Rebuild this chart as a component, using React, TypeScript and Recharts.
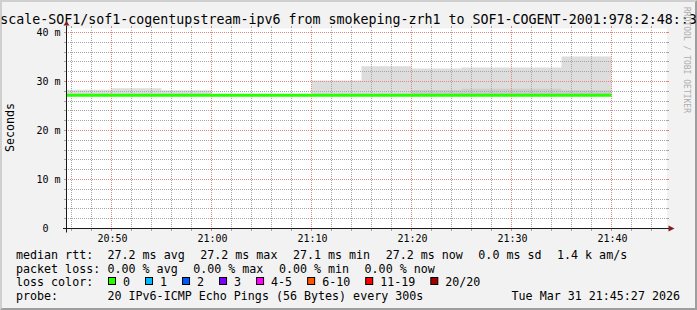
import React from 'react';
import { ComposedChart, Area, Line, XAxis, YAxis, CartesianGrid } from 'recharts';

const FONT = '"DejaVu Sans Mono", monospace';
const W = 697;
const H = 310;
const PLOT_LEFT = 67;
const PLOT_TOP = 28.5;
const PLOT_W = 600;
const PLOT_H = 200;
const PLOT_RIGHT = PLOT_LEFT + PLOT_W;
const PLOT_BOTTOM = PLOT_TOP + PLOT_H;
const Y_AXIS_W = 40;
const X_AXIS_H = 20;

const GRID = '#a6a6a6';
const MGRID = '#de8585';
const ARROW = '#801f1f';
const AXIS = '#1a1a1a';

// time = minutes after 20:00, each smokeping bin is 5 minutes (step 300s)
const binStart = [45, 50, 55, 60, 65, 70, 75, 80, 85, 90, 95, 100];
const smokeMin = [27.1, 27.1, 27.1, 27.1, 27.1, 27.1, 27.1, 27.1, 27.1, 27.1, 27.1, 27.1];
const smokeMax = [28.3, 28.6, 28.2, 27.4, 27.4, 30.2, 33.1, 32.65, 32.86, 32.86, 35.1, 35.1];
const smokeInner = [27.4, 27.4, 27.4, 27.3, 27.3, 27.4, 27.4, 28.25, 28.5, 28.5, 28.2, 28.2];
const medianRtt = [27.2, 27.2, 27.2, 27.2, 27.2, 27.2, 27.2, 27.2, 27.2, 27.2, 27.2, 27.2];

const timeDomain = [45.55, 105.55];
const rttDomain = [0, 40.82];

const xMajor = [50, 60, 70, 80, 90, 100];
const xMajorLabels = ['20:50', '21:00', '21:10', '21:20', '21:30', '21:40'];
const yMajor = [0, 10, 20, 30, 40];
const yMajorLabels = ['0  ', '10 m', '20 m', '30 m', '40 m'];

const xTicks: number[] = [];
for (let t = 46; t <= 104; t += 2) xTicks.push(t);
const yTicks: number[] = [];
for (let v = 0; v <= 40; v += 2) yTicks.push(v);

const title = 'scale-SOF1/sof1-cogentupstream-ipv6 from smokeping-zrh1 to SOF1-COGENT-2001:978:2:48::3';
const rttStats = ['27.2 ms avg', '27.2 ms max', '27.1 ms min', '27.2 ms now', '0.0 ms sd', '1.4 k am/s'];
const lossStats = ['0.00 % avg', '0.00 % max', '0.00 % min', '0.00 % now'];
const lossLabels = ['0', '1', '2', '3', '4-5', '6-10', '11-19', '20/20'];
const lossColors = ['#26ff00', '#00b8ff', '#0059ff', '#7e00ff', '#ff00ff', '#ff5500', '#ff0000', '#a10000'];
const probeText = '20 IPv6-ICMP Echo Pings (56 Bytes) every 300s';
const dateText = 'Tue Mar 31 21:45:27 2026';

const rows = binStart.map((t, i) => ({
  t,
  outer: [smokeMin[i], smokeMax[i]],
  inner: [smokeMin[i], smokeInner[i]],
  median: medianRtt[i],
}));

const px = (c: number) => Math.floor(c);

const XTick = (props: any) => {
  const v = props.payload?.value;
  const raw = props.payload?.coordinate ?? props.x;
  const cx = px(raw);
  const idx = xMajor.indexOf(v);
  const major = idx >= 0;
  const col = major ? MGRID : GRID;
  return (
    <g>
      <rect x={cx} y={Math.ceil(PLOT_TOP)} width={1} height={Math.floor(PLOT_H)} fill={major ? 'url(#dotVM)' : 'url(#dotV)'} />
      <rect x={cx} y={Math.floor(PLOT_TOP) - 2} width={1} height={2} fill={col} />
      <rect x={cx} y={Math.floor(PLOT_BOTTOM) + 1} width={1} height={2} fill={col} />
      {major && (
        <text x={raw + 1} y={241.5} textAnchor="middle" fontFamily={FONT} fontSize={10} fill="#000">
          {xMajorLabels[idx]}
        </text>
      )}
    </g>
  );
};

const YTick = (props: any) => {
  const v = props.payload?.value;
  const raw = props.payload?.coordinate ?? props.y;
  const cy = px(raw);
  const idx = yMajor.indexOf(v);
  const major = idx >= 0;
  const col = major ? MGRID : GRID;
  return (
    <g>
      {v > 0 && (
        <rect x={PLOT_LEFT} y={cy} width={PLOT_W} height={1} fill={major ? 'url(#dotHM)' : 'url(#dotH)'} />
      )}
      <rect x={PLOT_LEFT - 3} y={cy} width={2} height={1} fill={col} />
      <rect x={PLOT_RIGHT} y={cy} width={2} height={1} fill={col} />
      {major && (
        <text x={PLOT_LEFT - 6.5} y={raw + 3.6} textAnchor="end" fontFamily={FONT} fontSize={10} fill="#000" style={{ whiteSpace: 'pre' }}>
          {yMajorLabels[idx]}
        </text>
      )}
    </g>
  );
};

const CHAR = 11.66 * 0.602;
const LEG_FS = 11.66;

function statItems(items: string[], start: number, gap: number) {
  const out: { x: number; s: string }[] = [];
  let x = start;
  for (const s of items) {
    out.push({ x, s });
    x += s.length * CHAR + gap;
  }
  return out;
}

function lossItems() {
  const out: { bx: number; tx: number; s: string; c: string }[] = [];
  let x = 108;
  lossLabels.forEach((s, i) => {
    out.push({ bx: x, tx: x + 15, s, c: lossColors[i] });
    x = x + 15 + s.length * CHAR + 15;
  });
  return out;
}

const PatternDefs = () => (
  <svg width={0} height={0} style={{ position: 'absolute', left: 0, top: 0 }}>
    <defs>
      <pattern id="dotH" patternUnits="userSpaceOnUse" x={0} y={0} width={2} height={1}>
        <rect x={0} y={0} width={1} height={1} fill={GRID} />
      </pattern>
      <pattern id="dotHM" patternUnits="userSpaceOnUse" x={0} y={0} width={2} height={1}>
        <rect x={0} y={0} width={1} height={1} fill={MGRID} />
      </pattern>
      <pattern id="dotV" patternUnits="userSpaceOnUse" x={0} y={0} width={1} height={2}>
        <rect x={0} y={0} width={1} height={1} fill={GRID} />
      </pattern>
      <pattern id="dotVM" patternUnits="userSpaceOnUse" x={0} y={0} width={1} height={2}>
        <rect x={0} y={0} width={1} height={1} fill={MGRID} />
      </pattern>
    </defs>
  </svg>
);

const Overlay = () => {
  const rowY = [259, 272.7, 286.4, 300];
  const r1 = statItems(rttStats, 107.5, 15.5);
  const r2 = statItems(lossStats, 107.5, 15.5);
  const r3 = lossItems();
  const ax = PLOT_LEFT - 0.5;
  const ay = PLOT_BOTTOM;
  return (
    <svg width={W} height={H} style={{ position: 'absolute', left: 0, top: 0, pointerEvents: 'none' }}>
      <polygon points={`0,${H} 2,${H - 2} 2,2 ${W - 2},2 ${W},0 0,0`} fill="#cfcfcf" />
      <polygon points={`2,${H - 2} ${W - 2},${H - 2} ${W - 2},2 ${W},0 ${W},${H} 0,${H}`} fill="#9e9e9e" />
      <text x={W / 2} y={24} textAnchor="middle" fontFamily={FONT} fontSize={13.3} fill="#000">
        {title}
      </text>
      <text x={0} y={0} transform={`translate(683.5,7) rotate(90)`} fontFamily={FONT} fontSize={8} fill="#adadad">
        RRDTOOL / TOBI OETIKER
      </text>
      <text x={0} y={0} transform={`translate(14,127.5) rotate(-90)`} textAnchor="middle" fontFamily={FONT} fontSize={LEG_FS} fill="#000">
        Seconds
      </text>
      <line x1={PLOT_LEFT - 4} x2={PLOT_RIGHT + 3} y1={ay} y2={ay} stroke={AXIS} strokeWidth={1} />
      <polygon points={`${PLOT_RIGHT + 1.5},${ay - 3} ${PLOT_RIGHT + 1.5},${ay + 3} ${PLOT_RIGHT + 7.5},${ay}`} fill={ARROW} />
      <line x1={ax} x2={ax} y1={ay + 4} y2={PLOT_TOP - 3} stroke={AXIS} strokeWidth={1} />
      <polygon points={`${ax - 3},${PLOT_TOP - 3} ${ax + 3},${PLOT_TOP - 3} ${ax},${PLOT_TOP - 7.5}`} fill={ARROW} />
      <g fontFamily={FONT} fontSize={LEG_FS} fill="#000" style={{ whiteSpace: 'pre' }}>
        <text x={16} y={rowY[0]}>median rtt:</text>
        {r1.map((it, i) => (
          <text key={'a' + i} x={it.x} y={rowY[0]}>{it.s}</text>
        ))}
        <text x={16} y={rowY[1]}>packet loss:</text>
        {r2.map((it, i) => (
          <text key={'b' + i} x={it.x} y={rowY[1]}>{it.s}</text>
        ))}
        <text x={16} y={rowY[2]}>loss color:</text>
        {r3.map((it, i) => (
          <g key={'c' + i}>
            <rect x={it.bx + 0.5} y={277.5} width={7} height={7} fill={it.c} stroke="#000" strokeWidth={1} />
            <text x={it.tx} y={rowY[2]}>{it.s}</text>
          </g>
        ))}
        <text x={16} y={rowY[3]}>probe:</text>
        <text x={107.5} y={rowY[3]}>{probeText}</text>
        <text x={680} y={rowY[3]} textAnchor="end">{dateText}</text>
      </g>
    </svg>
  );
};

export default function App() {
  return (
    <div style={{ position: 'absolute', left: 0, top: 0, width: W, height: H, background: '#f2f2f2', overflow: 'hidden' }}>
      <PatternDefs />
      <div style={{ position: 'absolute', left: 0, top: 0 }}>
        <ComposedChart
          width={W}
          height={H}
          data={rows}
          margin={{ top: PLOT_TOP, right: W - PLOT_RIGHT, bottom: H - PLOT_BOTTOM - X_AXIS_H, left: PLOT_LEFT - Y_AXIS_W }}
        >
          <CartesianGrid fill="#ffffff" horizontal={false} vertical={false} />
          <Area dataKey="outer" type="stepAfter" fill="#dddddd" fillOpacity={1} stroke="none" isAnimationActive={false} />
          <Area dataKey="inner" type="stepAfter" fill="#cdcdcd" fillOpacity={1} stroke="none" isAnimationActive={false} />
          <XAxis
            type="number"
            dataKey="t"
            domain={timeDomain}
            allowDataOverflow
            ticks={xTicks}
            interval={0}
            tick={<XTick />}
            axisLine={false}
            tickLine={false}
            height={X_AXIS_H}
          />
          <YAxis
            type="number"
            domain={rttDomain}
            allowDataOverflow
            ticks={yTicks}
            interval={0}
            tick={<YTick />}
            axisLine={false}
            tickLine={false}
            width={Y_AXIS_W}
          />
        </ComposedChart>
      </div>
      {/* median line layer drawn above the grid, same scales */}
      <div style={{ position: 'absolute', left: 0, top: 0 }}>
        <ComposedChart
          width={W}
          height={H}
          data={rows}
          margin={{ top: PLOT_TOP, right: W - PLOT_RIGHT, bottom: H - PLOT_BOTTOM, left: PLOT_LEFT }}
        >
          <XAxis type="number" dataKey="t" domain={timeDomain} allowDataOverflow hide />
          <YAxis type="number" domain={rttDomain} allowDataOverflow hide />
          <Line dataKey="median" type="stepAfter" stroke="#26ff00" strokeWidth={3} dot={false} activeDot={false} isAnimationActive={false} />
        </ComposedChart>
      </div>
      <Overlay />
    </div>
  );
}
